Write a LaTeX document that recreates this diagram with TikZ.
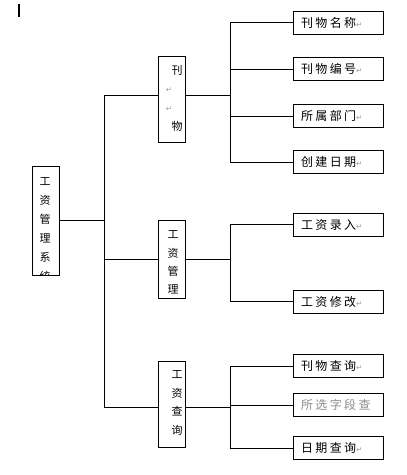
\documentclass[tikz,border=0pt]{standalone}
\usepackage{fontspec}
\usetikzlibrary{positioning}
\newfontfamily\cjk[LetterSpace=20]{Noto Sans CJK SC}
\newfontfamily\cjkv{Noto Sans CJK SC}
\newfontfamily\symb{DejaVu Sans}
\definecolor{markgray}{HTML}{9A9A9A}
\definecolor{fieldgray}{HTML}{8C8C8C}
\newcommand{\retmark}{{\symb\color{markgray}\fontsize{7.5}{7.5}\selectfont ↵}}

\begin{document}
\begin{tikzpicture}[x=1pt, y=-1pt, line width=0.8pt,
  leaf/.style={draw, minimum height=23pt, text width=74pt, inner xsep=8pt,
    inner ysep=0pt, align=left, font=\cjk\fontsize{12}{14}\selectfont},
  midbox/.style={draw, minimum width=27pt, inner sep=0pt},
  vtext/.style={inner sep=0pt, align=center, font=\cjkv\fontsize{11}{18.4}\selectfont}]

\useasboundingbox (0,0) rectangle (407,475);

% --- cursor mark ---
\draw[line width=1.3pt] (19,4) -- (19,17);

% --- root ---
\node[midbox, minimum height=109pt] (root) at (46,220.5) {};
\begin{scope}
  \clip (root.north west) rectangle (root.south east);
  \node[vtext, font=\cjkv\fontsize{11}{19}\selectfont] (roottxt) at (45,229) {工\\资\\管\\理\\系\\统};
\end{scope}

% --- second level ---
\node[midbox, minimum height=86pt] (kanwu) at (171.5,99) {};
\node[vtext] (kanwuA) at (177,70) {刊};
\node[inner sep=0pt] (kanwuB) at (169,90) {\retmark};
\node[inner sep=0pt] (kanwuC) at (169,109) {\retmark};
\node[vtext] (kanwuD) at (177,126) {物};

\node[midbox, minimum height=78pt] (guanli) at (171.5,259) {};
\node[vtext] (guanlitxt) at (173,262.5) {工\\资\\管\\理};

\node[midbox, minimum height=86pt] (chaxun) at (171.5,404) {};
\node[vtext] (chaxuntxt) at (177,403) {工\\资\\查\\询};

% --- leaves ---
\node[leaf] (mingcheng) at (338,22.5) {刊物名称\retmark};
\node[leaf] (bianhao) at (338,69) {刊物编号\retmark};
\node[leaf] (bumen) at (338,116) {所属部门\retmark};
\node[leaf] (riqi) at (338,162) {创建日期\retmark};

\node[leaf] (luru) at (338,224.5) {工资录入\retmark};
\node[leaf] (xiugai) at (338,301.5) {工资修改\retmark};

\node[leaf] (kwcx) at (338,366) {刊物查询\retmark};
\node[leaf, text=fieldgray] (zdcx) at (338,405) {所选字段查};
\node[leaf] (rqcx) at (338,448) {日期查询\retmark};

% --- connectors ---
\coordinate (j0) at (104,220.5);
\coordinate (j1) at (230,95);
\coordinate (j2) at (230,259);
\coordinate (j3) at (230,407);

\draw (root.east) -- (j0);
\draw ([yshift=4pt]kanwu.west) -| (j0);
\draw (guanli.west) -| (j0);
\draw ([yshift=-3pt]chaxun.west) -| (j0);

\draw ([yshift=4pt]kanwu.east) -- (j1);
\draw (mingcheng.west) -| (j1);
\draw (bianhao.west) -| (j1);
\draw (bumen.west) -| (j1);
\draw (riqi.west) -| (j1);

\draw (guanli.east) -- (j2);
\draw (luru.west) -| (j2);
\draw (xiugai.west) -| (j2);

\draw ([yshift=-3pt]chaxun.east) -- (j3);
\draw (kwcx.west) -| (j3);
\draw (zdcx.west) -| (j3);
\draw (rqcx.west) -| (j3);

\end{tikzpicture}
\end{document}
